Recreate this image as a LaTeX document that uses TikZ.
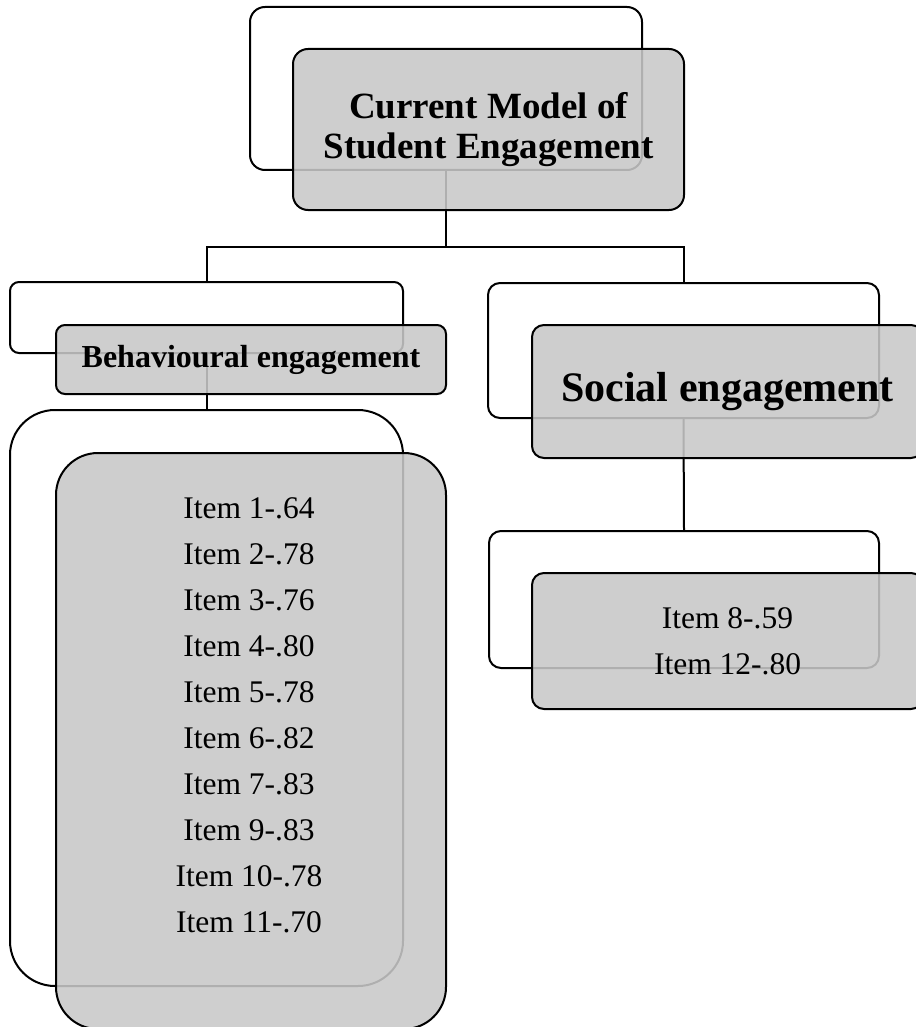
\documentclass[tikz,border=0pt]{standalone}
\usepackage{fontspec}
\setmainfont{Liberation Serif}
\usepackage{tikz}
\definecolor{boxgray}{RGB}{200,200,200}

\begin{document}
\begin{tikzpicture}[x=1pt,y=-1pt,
  back/.style={draw,line width=2pt,rounded corners=#1,fill=white},
  front/.style={draw,line width=2pt,rounded corners=#1,fill=boxgray,
    fill opacity=0.88,text opacity=1,align=center},
  items/.style={align=center,font=\fontsize{31.5}{46}\selectfont}]
\useasboundingbox (0,0) rectangle (915,1027);

% back boxes
\node[back=15pt,minimum width=392pt,minimum height=163pt] (0) at (446,88.5) {};
\node[back=9pt,minimum width=393pt,minimum height=71pt] (1) at (206.5,317.5) {};
\node[back=12pt,minimum width=391pt,minimum height=135pt] (2) at (683.5,350.5) {};
\node[back=45pt,minimum width=393pt,minimum height=576pt] (3) at (206.5,698) {};
\node[back=12pt,minimum width=390pt,minimum height=137pt] (4) at (684,599.5) {};

% connectors
\coordinate (b) at (446,247);
\draw[line width=2pt] (0.south) -- (b);
\draw[line width=2pt] (1.north) |- (b) -| (2.north);
\draw[line width=2pt] (1.south) -- (3.north);
\draw[line width=2pt] (2.south) -- (4.north);

% front boxes
\node[front=15pt,minimum width=391pt,minimum height=161pt,
  font=\fontsize{37}{40}\selectfont\bfseries] (5) at (488.5,129.5)
  {Current Model of\\Student Engagement};
\node[front=9pt,minimum width=390pt,minimum height=69pt,
  font=\fontsize{32}{36}\selectfont\bfseries] (6) at (251,359.5)
  {Behavioural engagement};
\node[front=12pt,minimum width=391pt,minimum height=133pt,
  font=\fontsize{42}{48}\selectfont\bfseries] (7) at (727.5,391.5)
  {Social engagement};
\node[front=42pt,minimum width=390pt,minimum height=576pt] (8) at (251,741) {};
\node[front=12pt,items,minimum width=391pt,minimum height=136pt] (9) at (727.5,641)
  {Item 8-.59\\Item 12-.80};

\node[items] (10) at (249,715) {Item 1-.64\\Item 2-.78\\Item 3-.76\\Item 4-.80\\
  Item 5-.78\\Item 6-.82\\Item 7-.83\\Item 9-.83\\Item 10-.78\\Item 11-.70};

\end{tikzpicture}
\end{document}
